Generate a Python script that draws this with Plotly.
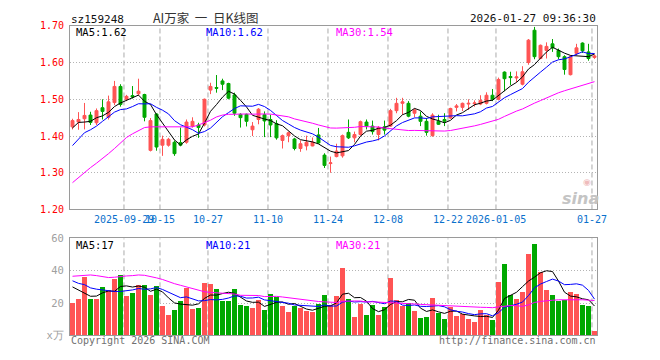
import plotly.graph_objects as go

# ---------------- data ----------------
opens = [1.425,1.438,1.447,1.457,1.436,1.477,1.451,1.491,1.535,1.500,
         1.510,1.515,1.513,1.361,1.460,1.375,1.375,1.383,1.382,1.383,
         1.427,1.430,1.430,1.525,1.532,1.550,1.543,1.512,1.459,1.459,
         1.417,1.445,1.458,1.445,1.434,1.388,1.401,1.392,1.366,1.373,
         1.373,1.403,1.348,1.325,1.344,1.346,1.410,1.395,1.404,1.438,
         1.427,1.404,1.425,1.427,1.469,1.489,1.489,1.462,1.454,1.440,
         1.401,1.440,1.445,1.449,1.478,1.478,1.487,1.488,1.487,1.489,
         1.511,1.500,1.574,1.562,1.558,1.541,1.600,1.688,1.611,1.633,
         1.651,1.633,1.616,1.567,1.625,1.653,1.629,1.614]
highs = [1.447,1.465,1.490,1.466,1.475,1.500,1.510,1.550,1.541,1.512,
         1.536,1.556,1.515,1.449,1.462,1.401,1.395,1.388,1.423,1.445,
         1.451,1.436,1.502,1.545,1.566,1.556,1.545,1.518,1.462,1.461,
         1.438,1.476,1.467,1.458,1.443,1.404,1.412,1.395,1.388,1.401,
         1.396,1.422,1.353,1.344,1.379,1.404,1.445,1.412,1.442,1.445,
         1.442,1.427,1.442,1.474,1.504,1.504,1.495,1.475,1.467,1.449,
         1.462,1.458,1.462,1.477,1.487,1.491,1.500,1.497,1.511,1.519,
         1.528,1.559,1.576,1.575,1.576,1.590,1.664,1.697,1.649,1.655,
         1.664,1.638,1.620,1.620,1.651,1.655,1.651,1.622]
lows = [1.418,1.417,1.418,1.430,1.430,1.445,1.445,1.484,1.480,1.495,
        1.502,1.510,1.440,1.358,1.360,1.346,1.371,1.346,1.372,1.379,
        1.423,1.395,1.426,1.514,1.518,1.525,1.500,1.455,1.423,1.426,
        1.400,1.432,1.397,1.397,1.390,1.366,1.383,1.361,1.357,1.361,
        1.372,1.379,1.313,1.300,1.342,1.341,1.392,1.383,1.401,1.418,
        1.404,1.388,1.404,1.425,1.462,1.458,1.451,1.451,1.427,1.401,
        1.398,1.430,1.427,1.447,1.467,1.468,1.471,1.480,1.484,1.486,
        1.495,1.497,1.522,1.539,1.546,1.538,1.594,1.609,1.609,1.611,
        1.629,1.609,1.567,1.565,1.620,1.626,1.605,1.610]
closes = [1.442,1.445,1.456,1.437,1.469,1.467,1.493,1.535,1.486,1.508,
          1.506,1.522,1.451,1.442,1.370,1.391,1.391,1.352,1.375,1.438,
          1.440,1.423,1.500,1.535,1.530,1.541,1.503,1.462,1.450,1.440,
          1.427,1.473,1.441,1.430,1.395,1.401,1.409,1.366,1.379,1.383,
          1.383,1.381,1.320,1.327,1.359,1.401,1.395,1.404,1.439,1.427,
          1.412,1.423,1.416,1.469,1.489,1.493,1.454,1.471,1.440,1.410,
          1.457,1.432,1.440,1.475,1.482,1.489,1.489,1.490,1.497,1.511,
          1.500,1.554,1.556,1.559,1.561,1.575,1.661,1.616,1.647,1.644,
          1.640,1.616,1.581,1.616,1.640,1.632,1.611,1.618]
volumes = [19.8,22,35.8,22,22,29.8,27.8,34.8,37,23.8,
           26.2,31,31,24.4,30.4,17.8,12.4,15.4,20.8,28.8,
           16,16.6,32.2,31.2,28.6,20.8,20.8,28.6,18.4,17.8,
           16.6,21.4,15.4,25.6,23.2,17.8,14.2,17.8,16.6,15,
           14.2,19,25,18.4,23.8,41.2,22,11.2,19,12.4,
           18.4,12.4,17.2,35.2,21.4,17.8,19.6,14.8,10.6,11.2,
           22.6,13.6,10,17.2,11.8,13,10,8.2,15.4,12.4,
           9.4,32.8,44.2,25,22,26.8,50.2,56.2,38.8,28,
           24.4,20.8,21.6,26.8,25.6,18.4,17.8,2.2]

# moving-average values before enough history is visible
price_ma5_head = [1.422, 1.437, 1.438, 1.440]
price_ma10_head = [1.374, 1.392, 1.409, 1.417, 1.427, 1.440, 1.453, 1.465, 1.472]
price_ma30_head = [1.273,1.287,1.301,1.314,1.326,1.338,1.352,1.366,1.381,1.396,
                   1.406,1.415,1.423,1.425,1.425,1.425,1.425,1.425,1.424,1.423,
                   1.425,1.430,1.436,1.443,1.452,1.457,1.459,1.460,1.460]
vol_ma5_head = [30, 28, 26, 24.2]
vol_ma10_head = [33.8, 32.2, 31.4, 29.4, 28.6, 28.2, 27.4, 27.2, 27.2]
vol_ma30_head = [36.6,36.8,37.2,37.4,37,36.2,35.8,36,36.6,36.8,
                 37,37.4,37.2,36.6,35.6,34.6,33.2,32,31,30,
                 28.8,27.8,27,26.6,26.4,26.4,26.2,25.6,24.8]

date_labels = ["2025-09-29", "10-15", "10-27", "11-10", "11-24",
               "12-08", "12-22", "2026-01-05", "01-27"]
date_label_idx = [9, 15, 23, 33, 43, 53, 63, 71, 87]

price_ticks = [1.20, 1.30, 1.40, 1.50, 1.60, 1.70]
vol_ticks = [0, 20, 40, 60]
vol_tick_text = ["x万", "20", "40", "60"]

code = "sz159248"
title = "AI万家\u00a0\u00a0一\u00a0\u00a0日K线图"
timestamp = "2026-01-27 09:36:30"
price_ma_labels = ["MA5:1.62", "MA10:1.62", "MA30:1.54"]
vol_ma_labels = ["MA5:17", "MA10:21", "MA30:21"]


def moving_average(vals, n, head):
    out = []
    for i in range(len(vals)):
        if i >= n - 1:
            out.append(sum(vals[i - n + 1:i + 1]) / n)
        else:
            out.append(head[i])
    return out


# ---------------- figure ----------------
W, H = 660, 360
RED = "#ff5454"
GREEN = "#00a800"
MA_COLORS = ["#000000", "#0000ff", "#ff00ff"]
MONO = "DejaVu Sans Mono"

idx = list(range(len(closes)))


def px(x):
    return x / W


def py(y):
    return 1 - y / H


fig = go.Figure()

fig.add_trace(go.Candlestick(
    x=idx, open=opens, high=highs, low=lows, close=closes,
    increasing=dict(line=dict(color=RED, width=1), fillcolor=RED),
    decreasing=dict(line=dict(color=GREEN, width=1), fillcolor=GREEN),
    whiskerwidth=0, xaxis="x", yaxis="y", showlegend=False, hoverinfo="skip"))

for n, head, col in zip([5, 10, 30], [price_ma5_head, price_ma10_head, price_ma30_head], MA_COLORS):
    fig.add_trace(go.Scatter(x=idx, y=moving_average(closes, n, head), mode="lines",
                             line=dict(color=col, width=1), xaxis="x", yaxis="y",
                             showlegend=False, hoverinfo="skip"))

bar_colors = [RED if c >= o else GREEN for o, c in zip(opens, closes)]
fig.add_trace(go.Bar(x=idx, y=volumes, marker=dict(color=bar_colors, line=dict(width=0)),
                     width=0.83, xaxis="x2", yaxis="y2", showlegend=False, hoverinfo="skip"))

for n, head, col in zip([5, 10, 30], [vol_ma5_head, vol_ma10_head, vol_ma30_head], MA_COLORS):
    fig.add_trace(go.Scatter(x=idx, y=moving_average(volumes, n, head), mode="lines",
                             line=dict(color=col, width=1), xaxis="x2", yaxis="y2",
                             showlegend=False, hoverinfo="skip"))

x_left, x_right = 70, 597
xrange = [-0.417, len(closes) - 1 + 0.417]
border = dict(showline=True, linecolor="#9a9a9a", linewidth=1, mirror=True)

fig.update_layout(
    width=W, height=H, margin=dict(l=0, r=0, t=0, b=0),
    paper_bgcolor="white", plot_bgcolor="white", bargap=0,
    xaxis=dict(domain=[px(x_left), px(x_right)], range=xrange, anchor="y",
               showticklabels=False, showgrid=False, zeroline=False,
               rangeslider=dict(visible=False), ticks="", **border),
    yaxis=dict(domain=[py(210.5), py(20.5)], range=[1.20, 1.70], anchor="x",
               tickvals=price_ticks, ticktext=[f"{v:.2f}" for v in price_ticks],
               tickfont=dict(family=MONO, size=10, color="#ff0000"),
               showgrid=True, gridcolor="#b4b4b4", griddash="1px,2px", gridwidth=1,
               zeroline=False, ticks="", ticklabelstandoff=3, **border),
    xaxis2=dict(domain=[px(x_left), px(x_right)], range=xrange, anchor="y2",
                showticklabels=False, showgrid=False, zeroline=False, ticks="", **border),
    yaxis2=dict(domain=[py(340.7), py(240.5)], range=[0, 60], anchor="x2",
                tickvals=vol_ticks, ticktext=vol_tick_text,
                tickfont=dict(family=MONO, size=10.5, color="#a0a0a0"),
                showgrid=True, gridcolor="#b4b4b4", griddash="1px,2px", gridwidth=1,
                zeroline=False, ticks="", ticklabelstandoff=3, **border),
)

# vertical dashed date grid lines across both panels
shapes = []
for di in date_label_idx:
    for yr in ["y domain", "y2 domain"]:
        shapes.append(dict(type="line", xref="x", yref=yr, x0=di - 0.42, x1=di - 0.42,
                           y0=0, y1=1, line=dict(color="#aaaaaa", width=1, dash="5px,3px"),
                           layer="below"))
fig.update_layout(shapes=shapes)

ann = []


def text(x, y, s, color="#000", size=10, family=MONO, anchor="left", **kw):
    ann.append(dict(x=px(x), y=py(y), xref="paper", yref="paper", text=s, showarrow=False,
                    xanchor=anchor, yanchor="middle",
                    font=dict(family=family, size=size, color=color), **kw))


text(69, 13.5, code, "#111", 11)
text(206, 12, title, "#333", 12.5, "Noto Sans CJK SC", "center")
text(598, 13, timestamp, "#111", 11, anchor="right")
for lbl, x, col in zip(price_ma_labels, [74, 204, 334], MA_COLORS):
    text(x, 27, lbl, col, 10.5)
for lbl, x, col in zip(vol_ma_labels, [74, 204, 334], MA_COLORS):
    text(x, 247.5, lbl, col, 10.5)
for lbl, di in zip(date_labels, date_label_idx):
    ann.append(dict(x=di - 0.42, y=py(221), xref="x", yref="paper", text=lbl, showarrow=False,
                    xanchor="center", yanchor="middle",
                    font=dict(family=MONO, size=10, color="#0a70cc")))
text(69, 346, "Copyright 2026 SINA.COM", "#707070", 10)
text(598, 346, "http://finance.sina.com.cn", "#707070", 10, anchor="right")
text(580, 199, "<b><i>sina</i></b>", "#c4c4c4", 16, "DejaVu Sans", "center")
text(587, 182, "◉", "#efbcbc", 9, "DejaVu Sans", "center")
fig.update_layout(annotations=ann)

fig.write_html("out.html", config={"displayModeBar": False},
               post_script="document.body.style.margin='0';document.body.style.overflow='hidden';")
